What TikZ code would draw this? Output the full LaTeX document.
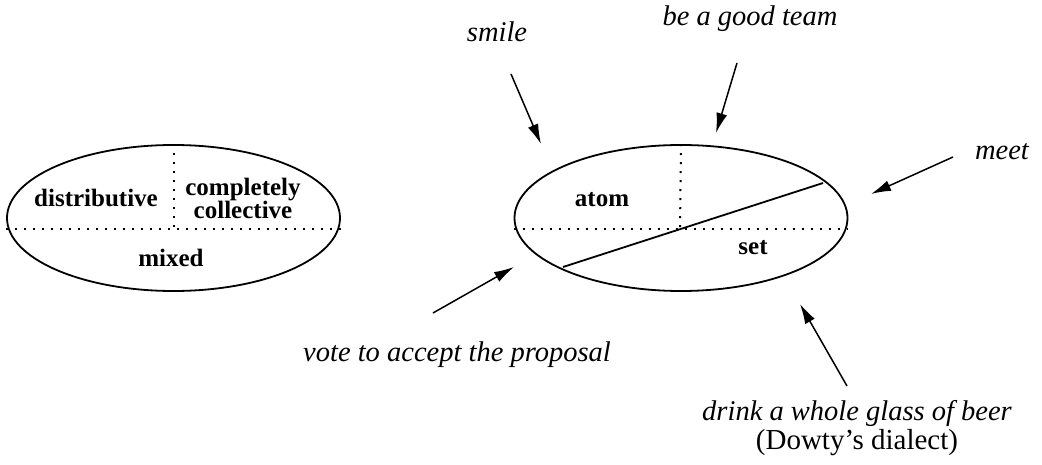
\documentclass[tikz,border=0pt]{standalone}
\usepackage{fontspec}
\setmainfont{Liberation Serif}
\usetikzlibrary{arrows.meta,shapes.geometric}
\tikzset{
  oval/.style={draw,ellipse,line width=1.8pt,minimum width=333pt,minimum height=146pt,inner sep=0pt},
  dotline/.style={line width=2pt,dash pattern=on 2pt off 7pt},
  lab/.style={font=\fontsize{25}{23}\selectfont\bfseries,inner sep=0pt,align=center},
  verb/.style={font=\fontsize{28.5}{34}\selectfont\itshape,inner sep=0pt,align=center},
  pointer/.style={line width=1.5pt,-{Latex[length=20pt,width=11pt]}}
}
\begin{document}
\begin{tikzpicture}[x=1pt,y=-1pt]
\useasboundingbox (0,0) rectangle (1042,465);
% left ellipse
\node[oval] (L) at (173.5,218) {};
\draw[dotline] (L.west |- 0,229) -- (L.east |- 0,229);
\draw[dotline] (L.north) -- (173.5,229);
\node[lab] (dist) at (96,198) {distributive};
\node[lab] (coll) at (243,198) {completely\\collective};
\node[lab] (mix) at (171,258) {mixed};
% right ellipse
\node[oval] (R) at (681,218) {};
\draw[dotline] (R.west |- 0,229) -- (R.east |- 0,229);
\draw[dotline] (R.north) -- (680,229);
\coordinate (s1) at (563,267);
\coordinate (s2) at (823,183);
\draw[line width=1.8pt] (s1) -- (s2);
\node[lab] (atom) at (602,200) {atom};
\node[lab] (set) at (753,248) {set};
% verbs
\node[verb] (smile) at (497,32) {smile};
\node[verb] (team) at (750,19) {be a good team};
\node[verb] (meet) at (1002,152) {meet};
\node[verb] (vote) at (457,355) {vote to accept the proposal};
\node[verb] (drink) at (857,413) {drink a whole glass of beer};
\node[font=\fontsize{29}{34}\selectfont,inner sep=0pt] (dowty) at (857,443) {(Dowty's dialect)};
% arrows
\coordinate (a1) at (511,74);   \coordinate (b1) at (541,144);
\coordinate (a2) at (737,63);   \coordinate (b2) at (716,133);
\coordinate (a3) at (953,157);  \coordinate (b3) at (871,194);
\coordinate (a4) at (433,313);  \coordinate (b4) at (514,267);
\coordinate (a5) at (847,386);  \coordinate (b5) at (800,304);
\draw[pointer] (a1) -- (b1);
\draw[pointer] (a2) -- (b2);
\draw[pointer] (a3) -- (b3);
\draw[pointer] (a4) -- (b4);
\draw[pointer] (a5) -- (b5);
\end{tikzpicture}
\end{document}
